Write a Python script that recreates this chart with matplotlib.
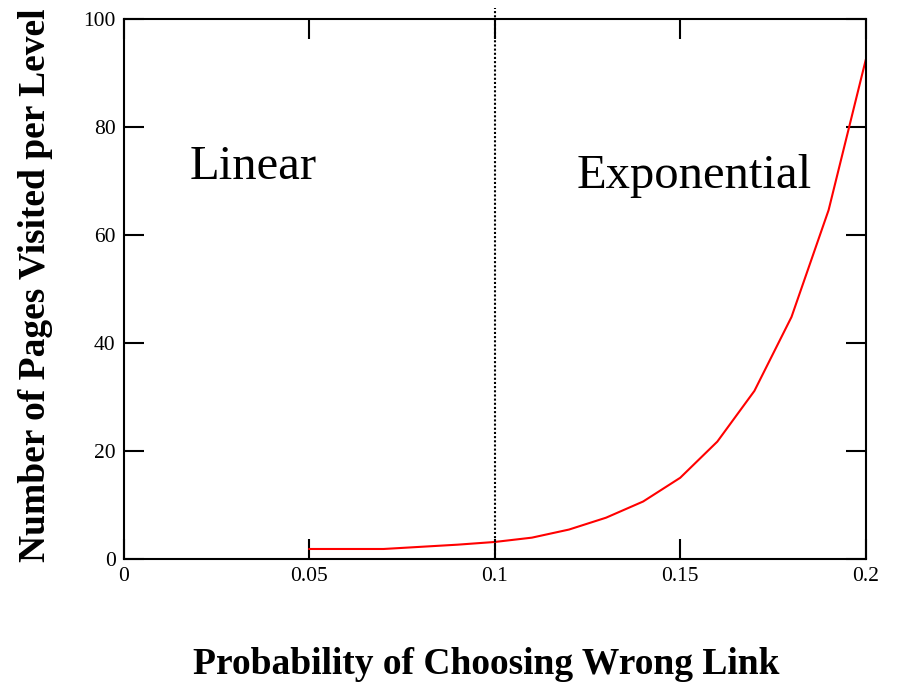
import matplotlib
matplotlib.use("Agg")
import matplotlib.pyplot as plt

prob = [0.05, 0.06, 0.07, 0.08, 0.09, 0.10, 0.11, 0.12, 0.13, 0.14, 0.15, 0.16, 0.17, 0.18, 0.19, 0.20]
pages = [1.8, 1.8, 1.8, 2.2, 2.6, 3.1, 3.9, 5.4, 7.6, 10.6, 15.0, 21.7, 31.1, 44.8, 64.6, 92.4]
xticks = [0, 0.05, 0.1, 0.15, 0.2]
xticklabels = ["0", "0.05", "0.1", "0.15", "0.2"]
yticks = [0, 20, 40, 60, 80, 100]

serif = ["Liberation Serif", "DejaVu Serif"]
plt.rcParams['font.family'] = serif

fig = plt.figure(figsize=(8.98, 6.83), dpi=100)
ax = fig.add_axes([0.138, 0.182, 0.826, 0.790])
ax.plot(prob, pages, color="red", lw=1.5)
ax.plot([0.1, 0.1], [0, 102], color="black", ls=(0, (1, 1)), lw=1.5, clip_on=False)
ax.set_xlim(0, 0.2)
ax.set_ylim(0, 100)
ax.set_xticks(xticks)
ax.set_xticklabels(xticklabels)
ax.set_yticks(yticks)
ax.tick_params(direction="in", length=14.5, width=1.5, top=True, right=True,
               labelsize=15.5, pad=6)
for s in ax.spines.values():
    s.set_linewidth(1.5)
ax.text(0.0178, 72.6, "Linear", fontsize=35, va="center", ha="left")
ax.text(0.122, 71, "Exponential", fontsize=35, va="center", ha="left")
ax.set_xlabel("Probability of Choosing Wrong Link", fontsize=27, fontweight="bold", labelpad=44)
ax.xaxis.label.set_x(0.488)
ax.set_ylabel("Number of Pages Visited per Level", fontsize=27, fontweight="bold", labelpad=22)
ax.yaxis.label.set_y(0.506)
fig.savefig("out.png", dpi=100)
